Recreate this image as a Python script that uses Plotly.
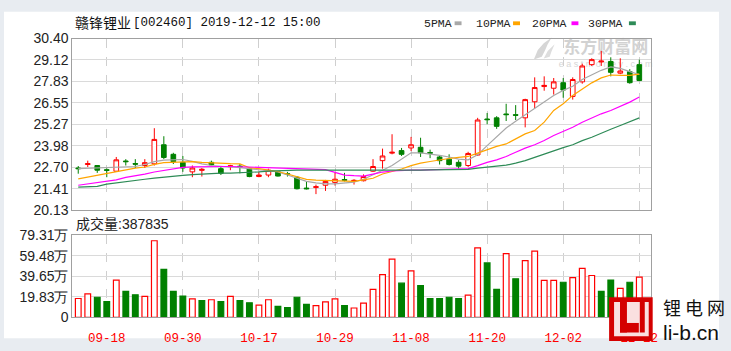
import plotly.graph_objects as go

W, H = 731, 351

dates = ["09-12","09-16","09-17","09-18","09-19","09-20","09-23","09-24","09-25","09-26",
         "09-27","09-30","10-08","10-09","10-10","10-11","10-14","10-15","10-16","10-17",
         "10-18","10-21","10-22","10-23","10-24","10-25","10-28","10-29","10-30","10-31",
         "11-01","11-04","11-05","11-06","11-07","11-08","11-11","11-12","11-13","11-14",
         "11-15","11-18","11-19","11-20","11-21","11-22","11-25","11-26","11-27","11-28",
         "11-29","12-02","12-03","12-04","12-05","12-06","12-09","12-10","12-11","12-12"]

opens = [22.66,22.87,22.81,22.56,22.47,23.08,22.93,22.81,22.91,24.05,
         23.48,23.00,22.43,22.52,23.00,22.62,22.74,22.77,22.62,22.15,
         22.24,22.43,22.32,22.11,21.46,21.50,21.63,21.80,21.97,21.88,
         21.90,22.47,23.10,23.55,23.70,23.86,23.90,23.59,23.32,23.19,
         23.00,22.81,23.44,25.59,25.66,25.89,25.85,25.66,26.62,27.53,
         27.43,27.76,26.94,27.81,28.84,29.00,29.03,28.33,28.42,28.84]
highs = [22.78,23.10,22.83,22.64,23.32,23.19,23.19,23.19,25.04,24.56,
         23.57,23.38,22.81,22.66,23.10,22.71,22.85,22.90,22.71,22.43,
         22.62,22.47,22.43,22.18,21.86,21.67,21.95,22.37,22.37,21.99,
         22.28,23.19,23.82,24.68,23.86,24.52,24.47,23.76,23.38,23.48,
         23.13,23.63,25.66,25.95,25.76,26.50,26.42,26.80,28.08,28.14,
         28.04,28.04,28.08,28.90,29.22,29.66,29.28,29.22,28.57,29.14]
lows = [22.32,22.72,22.37,22.11,22.43,22.81,22.66,22.66,22.81,23.19,
        22.90,22.43,22.11,22.15,22.81,22.24,22.53,22.34,22.11,22.11,
        22.11,22.15,22.15,21.38,21.38,21.10,21.29,21.61,21.86,21.67,
        21.86,22.43,22.62,23.48,23.38,23.67,23.32,23.25,22.87,22.81,
        22.62,22.72,23.38,25.28,25.00,25.47,25.53,25.09,26.23,27.28,
        27.05,26.86,26.75,27.70,28.76,28.76,28.14,28.27,27.70,27.85]
closes = [22.62,22.92,22.53,22.52,23.15,23.04,22.89,22.98,24.37,23.29,
          23.04,22.66,22.66,22.58,22.85,22.34,22.79,22.73,22.15,22.24,
          22.53,22.18,22.28,21.42,21.42,21.54,21.86,21.99,21.93,21.92,
          22.15,22.75,23.38,23.60,23.48,24.05,23.57,23.55,23.10,22.87,
          22.77,23.53,25.53,25.55,25.15,25.85,25.81,26.75,27.47,27.60,
          27.81,27.32,27.95,28.76,29.14,29.05,28.38,28.46,27.76,27.89]

ma5 = [22.62,22.64,22.66,22.68,22.72,22.74,22.75,22.87,23.04,23.13,
       23.17,23.17,23.06,22.91,22.81,22.75,22.72,22.68,22.62,22.58,
       22.53,22.43,22.24,22.05,21.86,21.77,21.71,21.71,21.77,21.82,
       21.99,22.24,22.53,22.81,23.19,23.57,23.57,23.51,23.42,23.32,
       23.19,23.15,23.45,24.00,24.55,25.05,25.45,25.85,26.20,26.60,
       27.00,27.30,27.55,27.95,28.25,28.50,28.70,28.62,28.42,28.25]
ma10 = [22.01,22.12,22.23,22.34,22.46,22.58,22.65,22.72,22.88,22.98,
        23.01,23.03,23.04,23.00,22.96,22.94,22.92,22.91,22.68,22.62,
        22.55,22.45,22.30,22.15,21.98,21.94,21.92,21.90,21.88,21.86,
        21.95,22.05,22.30,22.45,22.60,22.80,22.95,23.05,23.15,23.23,
        23.29,23.35,23.55,23.75,23.95,24.10,24.40,24.70,24.90,25.40,
        26.10,26.50,27.00,27.40,27.75,28.05,28.22,28.20,28.20,28.27]
ma20 = [21.63,21.70,21.78,21.86,21.95,22.10,22.18,22.30,22.42,22.50,
        22.60,22.70,22.73,22.75,22.75,22.75,22.75,22.75,22.72,22.70,
        22.68,22.68,22.66,22.64,22.62,22.60,22.56,22.40,22.24,22.20,
        22.18,22.30,22.42,22.48,22.52,22.53,22.53,22.55,22.57,22.58,
        22.60,22.62,22.80,23.00,23.15,23.35,23.60,23.85,24.05,24.30,
        24.60,24.85,25.10,25.40,25.65,25.90,26.10,26.35,26.60,26.90]
ma30 = [21.52,21.54,21.56,21.70,21.78,21.85,21.93,21.99,22.05,22.12,
        22.18,22.22,22.26,22.30,22.33,22.35,22.36,22.37,22.40,22.43,
        22.47,22.50,22.52,22.53,22.53,22.53,22.52,22.50,22.50,22.50,
        22.51,22.52,22.53,22.53,22.53,22.53,22.53,22.55,22.56,22.56,
        22.56,22.58,22.65,22.72,22.77,22.83,22.95,23.10,23.30,23.50,
        23.72,23.88,24.05,24.30,24.50,24.75,24.98,25.20,25.43,25.66]

# volume in 万 (10k shares)
volumes = [18.1,22.5,19.3,15.1,35.9,24.9,21.7,20.2,73.9,46.3,
           24.9,20.5,17.8,16.0,16.9,15.1,20.2,16.0,13.9,11.6,
           16.9,10.4,9.2,19.3,12.5,11.3,14.8,17.8,11.3,8.9,
           13.6,27.0,41.2,56.1,32.9,44.8,30.5,18.1,18.1,19.3,
           18.1,21.4,67.0,52.5,27.0,61.4,37.1,54.6,63.8,35.6,
           35.6,33.8,38.3,47.2,40.3,24.9,35.9,27.9,33.8,38.7835]
# 1 = up (red hollow), 0 = down (green) as shown for each volume bar
vol_up = [1,1,0,0,1,0,0,1,1,0,
          0,0,1,0,1,0,1,0,0,1,
          1,0,0,0,0,1,1,1,0,1,
          1,1,1,1,0,1,0,0,0,0,
          0,1,1,0,0,1,0,1,1,1,
          1,0,1,1,1,0,0,1,0,1]

label_dates = ["09-18","09-30","10-17","10-29","11-08","11-20","12-02","12-12"]
price_ticks = [20.13,21.41,22.70,23.98,25.27,26.55,27.83,29.12,30.40]
price_tick_text = ["20.13","21.41","22.70","23.98","25.27","26.55","27.83","29.12","30.40"]
vol_ticks = [0,19.83,39.65,59.48,79.31]
vol_tick_text = ["0","19.83万","39.65万","59.48万","79.31万"]

title_name = "赣锋锂业"
title_rest = "[002460] 2019-12-12 15:00"
ma_names = ["5PMA","10PMA","20PMA","30PMA"]
vol_label = "成交量:387835"

RED = "#FF0000"
GREEN = "#008000"
MA_COLORS = ["#A8A8A8", "#FFA500", "#FF00FF", "#2E8B57"]

def px(x):
    return x / W

def py(y):
    return 1 - y / H

fig = go.Figure()

fig.add_trace(go.Candlestick(
    x=dates, open=opens, high=highs, low=lows, close=closes,
    xaxis="x2", yaxis="y",
    increasing=dict(line=dict(color=RED, width=1), fillcolor="#FFFFFF"),
    decreasing=dict(line=dict(color=GREEN, width=1), fillcolor=GREEN),
    whiskerwidth=0, showlegend=False, hoverinfo="skip"))

for vals, col in zip([ma5, ma10, ma20, ma30], MA_COLORS):
    fig.add_trace(go.Scatter(x=dates, y=vals, mode="lines", xaxis="x2", yaxis="y",
                             line=dict(color=col, width=1.2), showlegend=False,
                             hoverinfo="skip"))

fig.add_trace(go.Bar(
    x=dates, y=volumes, xaxis="x", yaxis="y2", width=0.6,
    marker=dict(color=["#FFFFFF" if u else GREEN for u in vol_up],
                line=dict(color=[RED if u else GREEN for u in vol_up], width=1.2)),
    showlegend=False, hoverinfo="skip"))

xdom = [px(73), px(657)]
xrange_ = [-0.625, 60.2]
frame = "#A0A0A0"
grid = "#DADADA"
vgrid = "#CFCFCF"
tickfont = dict(family="Liberation Sans, Arial, sans-serif", size=14, color="#222222")

fig.update_layout(
    width=W, height=H,
    margin=dict(l=0, r=0, t=0, b=0),
    paper_bgcolor="#E8ECF1",
    plot_bgcolor="rgba(0,0,0,0)",
    showlegend=False,
    boxgap=0.3,
    xaxis=dict(domain=xdom, anchor="y2", type="category", range=xrange_,
               tickmode="array", tickvals=label_dates, ticktext=label_dates,
               showgrid=True, gridcolor=vgrid, griddash="dash", gridwidth=1,
               showline=True, mirror=True, linecolor=frame, linewidth=1,
               ticks="outside", ticklen=9, tickcolor="rgba(0,0,0,0)",
               tickfont=dict(family="Liberation Mono, monospace", size=12.5, color="#FF0000"),
               zeroline=False, fixedrange=True),
    xaxis2=dict(domain=xdom, anchor="y", type="category", range=xrange_, matches="x",
                tickmode="array", tickvals=label_dates, showticklabels=False,
                showgrid=True, gridcolor=vgrid, griddash="dash", gridwidth=1,
                showline=True, mirror=True, linecolor=frame, linewidth=1,
                rangeslider=dict(visible=False), zeroline=False, fixedrange=True),
    yaxis=dict(domain=[py(212), py(32)], anchor="x2", range=[20.13, 30.40],
               tickmode="array", tickvals=price_ticks, ticktext=price_tick_text,
               showgrid=True, gridcolor=grid, gridwidth=1,
               showline=True, mirror=True, linecolor=frame, linewidth=1,
               tickfont=tickfont, zeroline=False, fixedrange=True),
    yaxis2=dict(domain=[py(324), py(238)], anchor="x", range=[0, 79.31],
                tickmode="array", tickvals=vol_ticks, ticktext=vol_tick_text,
                showgrid=True, gridcolor=grid, gridwidth=1,
                showline=True, mirror=True, linecolor=frame, linewidth=1,
                tickfont=tickfont, zeroline=False, fixedrange=True),
)

shapes = []
# white panel
shapes.append(dict(type="rect", xref="paper", yref="paper", layer="below",
                   x0=px(4), x1=px(726), y0=py(346), y1=py(4),
                   fillcolor="#FFFFFF", line=dict(width=0)))
# watermark
shapes.append(dict(type="rect", xref="paper", yref="paper", layer="below",
                   x0=px(565), x1=px(658), y0=py(52), y1=py(32),
                   fillcolor="rgba(0,0,0,0)", line=dict(width=0),
                   label=dict(text="<b>东方财富网</b>", textposition="middle center",
                              font=dict(family="Noto Sans CJK SC", size=17, color="#D2D2D2"))))
shapes.append(dict(type="rect", xref="paper", yref="paper", layer="below",
                   x0=px(568), x1=px(655), y0=py(62), y1=py(53),
                   fillcolor="rgba(0,0,0,0)", line=dict(width=0),
                   label=dict(text="e a s t m o n e y . c o m", textposition="middle center",
                              font=dict(family="Liberation Sans", size=9, color="#D6D6D6"))))

def path_from(points):
    s = "M " + " L ".join(f"{px(x):.5f},{py(y):.5f}" for x, y in points) + " Z"
    return s

shapes.append(dict(type="path", xref="paper", yref="paper", layer="below",
                   path=path_from([(539, 54), (543, 44), (549, 37), (557, 31), (553, 38),
                                   (550, 45), (547, 51)]),
                   fillcolor="#D6D6D6", line=dict(width=0)))
shapes.append(dict(type="path", xref="paper", yref="paper", layer="below",
                   path=path_from([(549, 53), (553, 45), (560, 38), (557, 45), (555, 51)]),
                   fillcolor="#DDDDDD", line=dict(width=0)))

# legend colour squares
for xs, col in zip([459, 518, 577, 635], MA_COLORS):
    shapes.append(dict(type="rect", xref="paper", yref="paper",
                       x0=px(xs), x1=px(xs + 7), y0=py(18), y1=py(14),
                       fillcolor=col, line=dict(width=0)))

# bottom-right logo
def rect(x0, y0, x1, y1, col, op=1.0):
    return dict(type="rect", xref="paper", yref="paper", layer="above",
                x0=px(x0), x1=px(x1), y0=py(y1), y1=py(y0),
                fillcolor=col, opacity=op, line=dict(width=0))

shapes.append(rect(615, 303, 659, 349, "#D40000"))
shapes.append(rect(620, 308, 655, 344, "#FFFFFF", 0.88))
shapes.append(rect(626, 308, 633, 340, "#D40000"))
shapes.append(rect(626, 330, 645, 340, "#D40000"))
shapes.append(rect(646, 308, 651, 340, "#D40000"))

fig.update_layout(shapes=shapes)

ann = []
ann.append(dict(text=title_name, x=px(74), y=py(15), xref="paper", yref="paper",
                xanchor="left", yanchor="middle", showarrow=False,
                font=dict(family="Noto Sans CJK SC", size=14, color="#111111")))
ann.append(dict(text=title_rest, x=px(132), y=py(15.5), xref="paper", yref="paper",
                xanchor="left", yanchor="middle", showarrow=False,
                font=dict(family="Liberation Mono, monospace", size=12.5, color="#111111")))
for xs, name in zip([426, 479, 535, 592], ma_names):
    ann.append(dict(text=name, x=px(xs), y=py(16), xref="paper", yref="paper",
                    xanchor="left", yanchor="middle", showarrow=False,
                    font=dict(family="Liberation Mono, monospace", size=11.5, color="#222222")))
ann.append(dict(text=vol_label, x=px(75), y=py(226), xref="paper", yref="paper",
                xanchor="left", yanchor="middle", showarrow=False,
                font=dict(family="Liberation Sans, Noto Sans CJK SC", size=14, color="#222222")))
ann.append(dict(text="锂 电 网", x=px(667), y=py(313), xref="paper", yref="paper",
                xanchor="left", yanchor="middle", showarrow=False,
                font=dict(family="Noto Sans CJK SC", size=18, color="#111111")))
ann.append(dict(text="li-b.cn", x=px(667), y=py(340), xref="paper", yref="paper",
                xanchor="left", yanchor="middle", showarrow=False,
                font=dict(family="Liberation Sans", size=21, color="#111111")))
fig.update_layout(annotations=ann)

fig.write_html("out.html", config={"displayModeBar": False})
